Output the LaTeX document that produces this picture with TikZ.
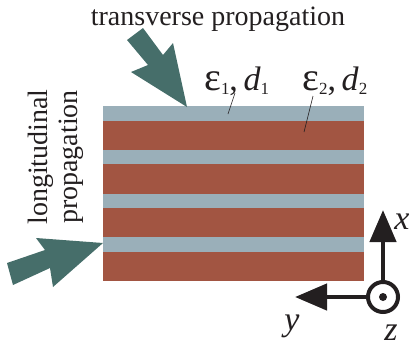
\documentclass[tikz,border=0pt]{standalone}
\usepackage{fontspec}
\setmainfont{Liberation Serif}
\usetikzlibrary{arrows.meta}
\definecolor{layerblue}{HTML}{9AAFB9}
\definecolor{layerred}{HTML}{A25542}
\definecolor{beamteal}{HTML}{466E6A}
\definecolor{inkblack}{HTML}{231F20}
\newcommand{\layersub}[1]{\raisebox{-0.12em}{\fontsize{17}{17}\selectfont #1}}
\newcommand{\bigeps}{{\fontsize{40}{40}\selectfont ε}}
\begin{document}
\begin{tikzpicture}[
    x=1pt, y=-1pt,
    every node/.style={text=inkblack, inner sep=0pt},
    thinlayer/.style={fill=layerblue},
    thicklayer/.style={fill=layerred},
    beam/.style={fill=beamteal},
    caption/.style={font=\fontsize{28}{30}\selectfont, anchor=base},
    layerlabel/.style={font=\fontsize{34}{36}\selectfont, anchor=base west},
    leader/.style={draw=inkblack, line width=0.6pt},
    axisarrow/.style={draw=inkblack, line width=4.5pt, -{Triangle[length=32pt, width=26pt]}},
    axislabel/.style={font=\fontsize{34}{36}\selectfont\itshape, anchor=base},
]
\useasboundingbox (0,0) rectangle (412,346);

% Multilayer stack
\fill[thinlayer]  (103,106)    rectangle (364,120.5);
\fill[thicklayer] (103,120.5)  rectangle (364,149.75);
\fill[thinlayer]  (103,149.75) rectangle (364,164.25);
\fill[thicklayer] (103,164.25) rectangle (364,193.5);
\fill[thinlayer]  (103,193.5)  rectangle (364,208);
\fill[thicklayer] (103,208)    rectangle (364,237.25);
\fill[thinlayer]  (103,237.25) rectangle (364,251.75);
\fill[thicklayer] (103,251.75) rectangle (364,281);

% Propagation arrows
\fill[beam] (127,40) -- (143,28) -- (163,55) -- (173,43) -- (187,107)
    -- (131,72) -- (148,65) -- cycle;
\fill[beam] (7,263) -- (45,250) -- (36,238) -- (103,243) -- (53,287)
    -- (50,268) -- (13,285) -- cycle;

% Captions
\node[caption] (transverse) at (218,25) {transverse propagation};
\node[caption, rotate=90] (longline) at (47,157) {longitudinal};
\node[caption, rotate=90] (propline) at (77,157) {propagation};

% Layer labels
\node[layerlabel] (eps1) at (204,90) {\bigeps\layersub{1},\,\textit{d}\layersub{1}};
\node[layerlabel] (eps2) at (302,90) {\bigeps\layersub{2},\,\textit{d}\layersub{2}};
\coordinate (eps1end) at (228,114);
\coordinate (eps2end) at (304,132);
\draw[leader] (235,93) -- (eps1end);
\draw[leader] (313,96) -- (eps2end);

% Coordinate axes
\node[circle, draw=inkblack, line width=4pt, minimum size=30pt] (zaxis) at (383,297) {};
\fill[inkblack] (zaxis.center) circle (4);
\coordinate (xtip) at (383,210);
\coordinate (ytip) at (295,297);
\draw[axisarrow] (zaxis.north) -- (xtip);
\draw[axisarrow] (zaxis.west) -- (ytip);
\node[axislabel] (xlabel) at (402,229) {x};
\node[axislabel] (ylabel) at (292,330) {y};
\node[axislabel] (zlabel) at (391,340) {z};

\end{tikzpicture}
\end{document}
